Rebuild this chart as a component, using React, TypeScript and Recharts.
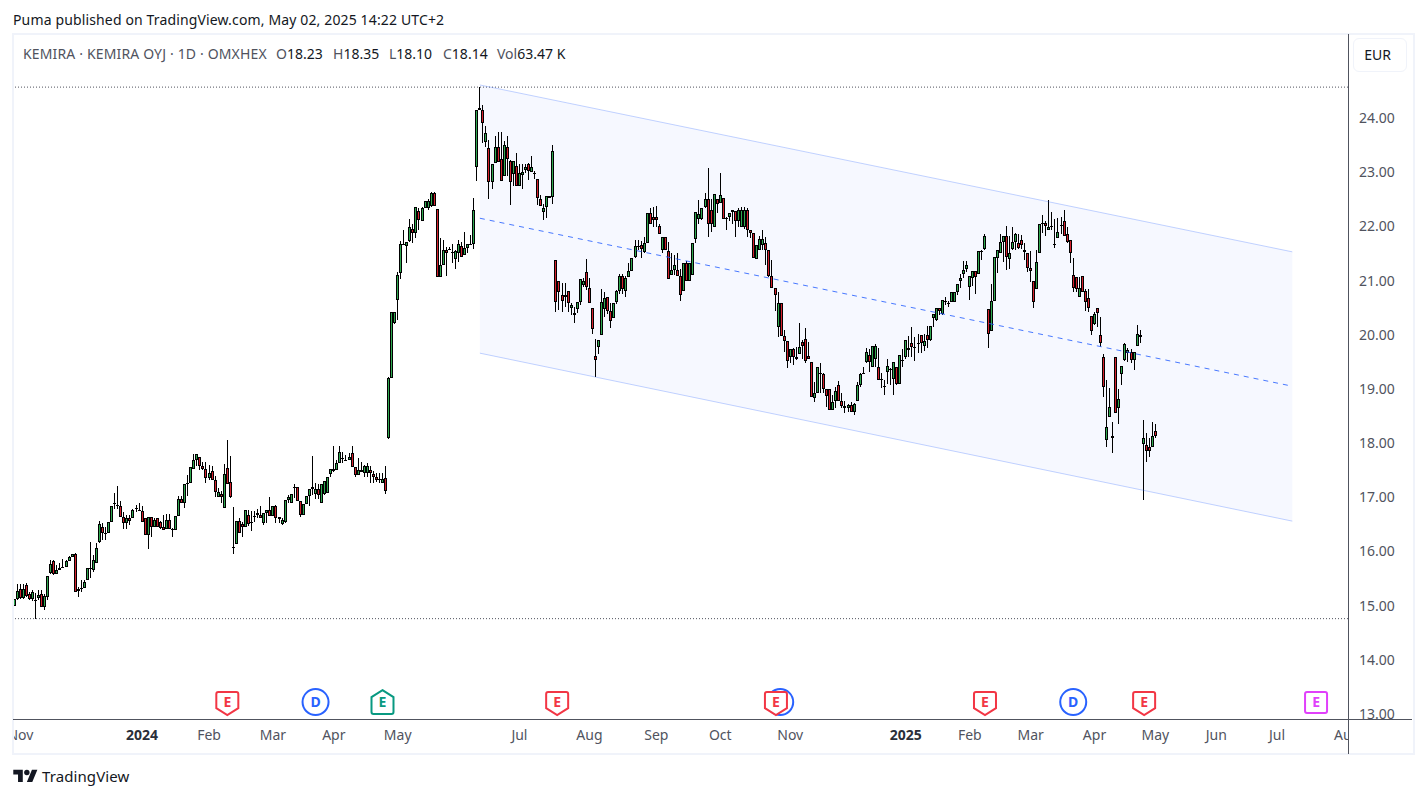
import React from "react";
import {
  Area,
  Bar,
  ComposedChart,
  Line,
  ReferenceDot,
  ReferenceLine,
  XAxis,
  YAxis,
} from "recharts";

// each candle is [open, high, low, close]
const candlesLate2023 = [
  [14.99,15.13,14.99,15.13],[15.13,15.40,15.11,15.27],[15.30,15.40,15.13,15.15],[15.15,15.40,15.13,15.30],
  [15.39,15.41,15.16,15.18],[15.21,15.26,15.10,15.13],[15.13,15.28,15.09,15.25],[15.10,15.24,14.76,15.09],
  [15.14,15.29,15.10,15.19],[15.21,15.29,14.97,14.97],[14.98,15.21,14.92,15.18],[15.16,15.54,15.10,15.54],
  [15.61,15.85,15.58,15.77],[15.82,15.84,15.57,15.59],[15.59,15.75,15.59,15.65],[15.65,15.78,15.65,15.70],
  [15.71,15.87,15.71,15.71],[15.72,15.85,15.72,15.83],[15.83,15.91,15.83,15.89],[15.89,15.96,15.89,15.96],
  [15.95,15.97,15.26,15.26],[15.30,15.34,15.16,15.27],[15.31,15.48,15.25,15.33],[15.33,15.48,15.33,15.43],
  [15.48,15.69,15.47,15.69],[15.70,16.17,15.51,15.68],[15.65,15.93,15.62,15.84],[15.79,16.16,15.79,16.07],
  [16.18,16.56,16.16,16.50],[16.46,16.52,16.21,16.35],[16.35,16.46,16.21,16.35],[16.35,16.54,16.35,16.54],
  [16.54,16.83,16.54,16.83],[16.87,17.07,16.78,16.90],[16.85,17.21,16.79,16.84],[16.83,16.93,16.64,16.64],
  [16.64,16.72,16.41,16.52],[16.52,16.67,16.41,16.61],[16.61,16.68,16.49,16.57],[16.61,16.79,16.61,16.76],
  [16.79,16.85,16.73,16.80],[16.77,16.90,16.74,16.76],[16.74,16.84,16.55,16.55],[16.61,16.61,16.31,16.31],
  [16.31,16.64,16.05,16.64],[16.64,16.64,16.26,16.46],[16.46,16.62,16.46,16.59],[16.61,16.61,16.46,16.46],
  [16.54,16.57,16.42,16.44],[16.46,16.67,16.39,16.39],[16.42,16.70,16.42,16.59],[16.59,16.70,16.42,16.42],
  [16.42,16.44,16.27,16.42],[16.39,16.66,16.39,16.66],[16.66,17.02,16.66,16.96],[16.96,17.02,16.89,16.90],
  [16.89,17.24,16.81,17.24],[17.25,17.41,17.03,17.26],[17.26,17.55,17.26,17.55],[17.53,17.80,17.53,17.68],
  [17.68,17.79,17.58,17.79],
];

const candlesSpring2024 = [
  [17.74,17.74,17.51,17.57],[17.57,17.66,17.51,17.52],[17.52,17.66,17.26,17.35],[17.35,17.59,17.32,17.44],
  [17.48,17.57,17.32,17.32],[17.32,17.40,17.01,17.09],[17.00,17.17,17.00,17.09],[17.06,17.11,16.89,17.00],
  [16.80,17.61,16.80,17.43],[17.54,18.06,17.24,17.24],[17.28,17.77,16.98,17.00],[16.09,16.82,15.96,16.09],
  [16.13,16.56,16.13,16.56],[16.56,16.61,16.35,16.35],[16.50,16.55,16.26,16.46],[16.45,16.76,16.45,16.76],
  [16.67,16.77,16.47,16.50],[16.55,16.74,16.37,16.55],[16.66,16.75,16.55,16.66],[16.71,16.78,16.61,16.67],
  [16.67,16.84,16.61,16.61],[16.53,16.71,16.48,16.71],[16.71,16.76,16.53,16.76],[16.76,17.00,16.65,16.65],
  [16.65,16.83,16.65,16.83],[16.83,16.86,16.52,16.61],[16.63,16.63,16.52,16.60],[16.50,16.61,16.48,16.58],
  [16.54,16.95,16.52,16.95],[16.95,17.04,16.89,17.00],[16.89,17.06,16.89,17.06],[17.19,17.24,16.98,17.19],
  [17.19,17.19,16.93,16.93],[16.93,16.93,16.63,16.67],[16.67,16.87,16.67,16.87],[16.87,17.02,16.87,17.02],
  [17.02,17.15,16.83,17.15],[17.15,17.77,17.04,17.19],[17.06,17.26,16.96,17.15],[17.15,17.24,16.96,17.04],
  [16.89,17.24,16.89,17.24],[17.06,17.30,17.04,17.30],[17.08,17.37,17.08,17.37],[17.43,17.52,17.37,17.52],
  [17.52,17.95,17.47,17.48],[17.50,17.68,17.50,17.63],[17.63,17.95,17.63,17.83],[17.72,17.83,17.63,17.72],
  [17.69,17.78,17.68,17.69],[17.69,17.81,17.69,17.74],[17.82,17.95,17.56,17.56],[17.56,17.56,17.38,17.41],
  [17.41,17.72,17.41,17.50],[17.46,17.66,17.46,17.50],[17.44,17.60,17.38,17.57],[17.44,17.64,17.38,17.57],
  [17.50,17.57,17.26,17.44],[17.43,17.48,17.26,17.37],[17.37,17.44,17.29,17.32],[17.33,17.44,17.26,17.33],
  [17.26,17.44,17.26,17.33],[17.35,17.58,17.06,17.11],
];

const candlesSummer2024 = [
  [18.09,19.22,18.07,19.20],[19.20,20.42,19.20,20.42],[20.22,20.42,20.20,20.42],[20.65,21.16,20.27,21.11],
  [21.14,21.73,21.03,21.68],[21.67,21.93,21.65,21.67],[21.64,21.72,21.33,21.72],[21.73,22.13,21.71,21.99],
  [21.96,22.05,21.70,21.88],[21.88,22.36,21.78,22.36],[22.29,22.33,21.93,22.12],[22.10,22.36,22.10,22.33],
  [22.33,22.47,22.33,22.47],[22.33,22.50,22.31,22.47],[22.37,22.64,22.36,22.61],[22.61,22.64,22.37,22.37],
  [22.32,22.32,21.07,21.07],[21.07,21.78,21.07,21.28],[21.28,21.75,21.28,21.57],[21.57,21.62,21.09,21.50],
  [21.59,21.62,21.56,21.59],[21.52,21.68,21.33,21.52],[21.39,21.56,21.22,21.54],[21.51,21.75,21.35,21.67],
  [21.64,21.72,21.43,21.44],[21.47,21.89,21.47,21.61],[21.61,21.68,21.50,21.68],[21.68,21.84,21.65,21.68],
  [21.67,22.52,21.59,22.31],[23.10,24.14,22.84,24.14],[24.19,24.57,24.14,24.14],[24.14,24.24,23.54,23.91],
  [23.56,23.85,23.47,23.73],[23.44,23.59,22.50,22.82],[22.81,23.16,22.69,23.16],[23.17,23.67,23.17,23.47],
  [23.47,23.75,23.19,23.19],[23.24,23.75,22.84,22.84],[22.93,23.57,22.93,23.51],[23.47,23.67,22.93,23.25],
  [23.20,23.22,22.39,22.82],[22.96,23.20,22.74,23.20],[23.12,23.36,22.75,22.75],[22.75,23.16,22.75,22.98],
  [22.95,23.16,22.69,23.01],[23.04,23.16,22.98,23.10],[23.15,23.17,22.85,23.03],[23.01,23.30,23.01,23.10],
  [22.98,23.02,22.87,22.98],[22.87,22.88,22.39,22.53],[22.50,22.58,22.38,22.38],[22.27,22.42,22.12,22.33],
  [22.35,22.56,22.16,22.56],[22.53,22.56,22.53,22.56],[22.55,23.50,22.41,23.40],
];

const candlesAutumn2024 = [
  [21.38,21.38,20.42,20.61],[21.00,21.00,20.45,20.78],[20.74,20.95,20.42,20.63],[20.69,20.95,20.52,20.74],
  [20.80,20.80,20.42,20.59],[20.50,20.58,20.36,20.55],[20.37,20.52,20.22,20.41],[20.47,20.61,20.40,20.60],
  [20.60,21.02,20.55,21.02],[20.91,21.04,20.89,21.00],[21.15,21.39,20.82,20.89],[20.87,21.04,20.58,20.58],
  [20.49,20.49,20.02,20.11],[19.60,19.93,19.22,19.54],[19.77,19.91,19.65,19.91],[19.99,20.84,19.99,20.60],
  [20.47,20.79,20.33,20.67],[20.69,20.69,20.38,20.43],[20.43,20.58,20.13,20.26],[20.30,20.58,20.30,20.58],
  [20.60,20.82,20.56,20.80],[20.80,21.13,20.76,21.08],[21.09,21.13,20.76,20.84],[20.81,21.08,20.70,21.04],
  [21.06,21.32,21.06,21.17],[21.17,21.41,21.17,21.41],[21.43,21.75,21.41,21.63],[21.64,21.75,21.56,21.64],
  [21.65,21.73,21.41,21.59],[21.52,21.81,21.50,21.69],[21.69,22.24,21.69,22.24],[22.24,22.33,22.04,22.04],
  [22.17,22.35,21.98,22.11],[22.17,22.38,21.98,22.11],[22.00,22.05,21.85,21.85],[21.57,21.81,21.50,21.81],
  [21.80,21.80,21.57,21.57],[21.54,21.72,21.02,21.02],[21.11,21.50,21.11,21.20],[21.20,21.47,21.11,21.28],
  [21.19,21.50,21.09,21.09],[21.09,21.22,20.63,20.73],[20.80,21.33,20.80,21.33],[21.33,21.37,21.00,21.00],
  [21.00,21.32,21.00,21.32],[21.11,21.69,21.11,21.69],[21.76,22.26,21.70,22.26],[22.13,22.49,22.05,22.23],
  [22.13,22.33,22.11,22.33],[22.36,22.61,22.33,22.50],[22.50,23.07,21.81,22.05],[22.31,22.50,21.90,22.05],
  [21.99,22.59,21.99,22.59],[22.50,22.50,22.24,22.41],[22.44,22.98,22.44,22.57],[22.53,22.53,22.13,22.13],
  [22.15,22.18,21.94,22.15],[22.17,22.24,22.09,22.24],[22.26,22.30,22.05,22.30],[22.28,22.28,21.81,22.09],
  [22.09,22.33,21.99,22.30],[21.99,22.35,21.98,22.30],[21.99,22.35,21.96,22.30],[22.31,22.33,21.81,21.93],
  [21.93,21.93,21.78,21.88],[21.87,21.87,21.41,21.41],[21.39,21.65,21.39,21.65],[21.56,21.82,21.56,21.76],
  [21.65,21.93,21.56,21.76],[21.69,21.81,21.29,21.56],[21.56,21.56,21.06,21.08],[21.08,21.38,20.86,20.86],
  [20.87,20.87,20.44,20.74],[20.15,20.79,19.96,20.58],[20.58,20.58,19.97,19.97],[19.97,20.09,19.69,19.88],
  [19.88,19.88,19.38,19.51],[19.58,19.73,19.47,19.73],[19.73,19.75,19.44,19.58],[19.58,19.78,19.53,19.56],
  [19.64,20.21,19.64,19.77],[19.86,19.90,19.56,19.80],[19.93,20.12,19.47,19.51],[19.60,19.86,19.55,19.55],
];

const candlesWinter2025 = [
  [19.49,19.49,18.86,18.86],[18.84,19.13,18.76,18.92],[18.92,19.40,18.92,19.40],[19.30,19.47,18.92,19.27],
  [19.27,19.29,18.92,18.99],[18.99,18.99,18.67,18.87],[18.99,18.99,18.62,18.62],[18.62,18.88,18.62,18.75],
  [18.77,19.04,18.64,18.97],[19.08,19.14,18.77,18.77],[18.77,18.92,18.64,18.68],[18.68,18.77,18.55,18.64],
  [18.64,18.73,18.58,18.70],[18.71,18.76,18.58,18.58],[18.58,18.74,18.52,18.73],[18.77,19.13,18.77,19.08],
  [19.08,19.29,19.04,19.27],[19.27,19.41,19.27,19.30],[19.49,19.75,19.47,19.69],[19.62,19.73,19.32,19.49],
  [19.40,19.80,19.40,19.80],[19.56,19.82,19.40,19.79],[19.41,19.75,19.16,19.16],[19.16,19.29,19.01,19.19],
  [19.05,19.16,18.89,19.05],[19.32,19.55,19.10,19.42],[19.37,19.38,19.07,19.37],[19.18,19.49,18.89,19.49],
  [19.40,19.40,19.07,19.10],[19.10,19.62,19.10,19.62],[19.54,19.73,19.41,19.51],[19.58,19.90,19.56,19.90],
  [19.71,19.97,19.59,19.75],[19.84,20.14,19.58,19.77],[19.77,19.96,19.52,19.77],[19.85,20.02,19.66,19.85],
  [19.99,20.00,19.66,19.84],[19.80,20.02,19.70,19.88],[19.99,20.16,19.75,19.90],[19.90,20.17,19.88,20.17],
  [20.30,20.38,20.15,20.38],[20.27,20.49,20.26,20.49],[20.50,20.50,20.36,20.43],[20.39,20.65,20.36,20.65],
  [20.62,20.69,20.55,20.62],[20.59,20.62,20.52,20.59],[20.60,20.78,20.60,20.78],[20.60,20.78,20.60,20.78],
  [20.78,20.93,20.73,20.93],[21.00,21.13,20.86,21.04],[21.13,21.37,21.04,21.19],[21.21,21.37,21.16,21.28],
  [20.89,21.08,20.65,21.08],[21.04,21.17,20.90,21.17],[21.17,21.17,20.76,21.06],[21.13,21.54,21.13,21.54],
  [21.52,21.57,21.38,21.54],[21.59,21.85,21.56,21.82],
];

const candlesSpring2025 = [
  [20.47,20.47,19.75,20.02],[20.06,20.93,20.06,20.62],[20.62,21.43,20.62,21.43],[21.41,21.56,21.14,21.56],
  [21.50,21.85,21.50,21.72],[21.72,21.82,21.35,21.82],[21.82,22.01,21.19,21.43],[21.39,21.82,21.22,21.50],
  [21.58,21.98,21.56,21.72],[21.72,21.87,21.56,21.85],[21.69,21.85,21.59,21.61],[21.74,21.84,21.59,21.65],
  [21.56,21.69,21.38,21.52],[21.50,21.50,21.16,21.24],[21.24,21.54,20.98,21.17],[21.00,21.00,20.49,20.60],
  [20.84,21.56,20.84,21.35],[21.50,22.04,21.50,22.04],[22.04,22.21,21.87,22.07],[22.07,22.09,21.83,22.00],
  [21.93,22.49,21.93,21.98],[22.00,22.26,21.94,22.00],[21.68,22.13,21.61,21.68],[21.78,22.15,21.78,21.89],
  [22.02,22.18,21.85,22.02],[22.09,22.31,21.83,21.83],[21.85,21.98,21.70,21.72],[21.74,21.74,21.32,21.50],
  [21.11,21.41,20.79,20.87],[21.06,21.06,20.79,20.84],[20.69,21.07,20.69,20.87],[21.08,21.08,20.78,20.78],
  [20.80,20.85,20.44,20.61],[20.67,20.85,20.42,20.49],[20.34,20.34,20.00,20.06],[20.19,20.42,20.18,20.39],
  [20.49,20.50,20.15,20.41],[19.99,20.33,19.77,19.84],[19.58,19.65,18.85,19.03],[18.05,19.17,17.93,18.29],
  [18.49,19.01,18.49,18.66],[18.14,18.39,17.82,18.10],[19.58,19.58,18.55,18.55],[18.64,18.99,18.36,18.82],
  [19.27,19.43,19.07,19.43],[19.54,19.84,19.52,19.82],[19.67,19.76,19.50,19.71],[19.69,19.73,19.48,19.54],
  [19.54,19.69,19.35,19.69],[19.80,20.18,19.80,20.02],[20.00,20.09,19.85,19.95],[17.99,18.42,16.95,18.10],
  [17.97,18.18,17.65,17.86],[17.92,18.10,17.75,17.86],[17.92,18.39,17.92,18.14],[18.23,18.35,18.10,18.14],
];

const candles = [
  ...candlesLate2023,
  ...candlesSpring2024,
  ...candlesSummer2024,
  ...candlesAutumn2024,
  ...candlesWinter2025,
  ...candlesSpring2025,
];

// parallel channel, anchored on two bars
const channelBars = [153, 420];
const channelUpper = [24.61, 21.53];
const channelMid = [22.15, 19.05];
const channelLower = [19.66, 16.56];

const priceTicks = [13, 14, 15, 16, 17, 18, 19, 20, 21, 22, 23, 24];
const timeTickBars = [2, 42, 64, 85, 105, 126, 166, 189, 211, 232, 255, 293, 314, 334, 355, 375, 395, 415, 438];
const timeTickLabels = ["Nov", "2024", "Feb", "Mar", "Apr", "May", "Jul", "Aug", "Sep", "Oct", "Nov", "2025", "Feb", "Mar", "Apr", "May", "Jun", "Jul", "Aug"];

const highLine = 24.57;
const lowLine = 14.76;

// "C" is the dividend circle that sits behind an earnings badge, its letter covered
const eventBars = [251.7, 99, 348, 70, 121, 178.4, 250.3, 319, 371.3, 427.8];
const eventKinds = ["C", "D", "D", "E", "G", "E", "E", "E", "E", "M"];
const eventPrice = 13.22;

const legendParts = [
  { label: "O", value: "18.23", left: 276 },
  { label: "H", value: "18.35", left: 333 },
  { label: "L", value: "18.10", left: 389 },
  { label: "C", value: "18.14", left: 443 },
  { label: "Vol", value: "63.47 K", left: 497 },
];

const rows: any[] = candles.map(([o, h, l, c], i) => ({ i, o, h, l, c, range: [l, h] }));
rows.push({ i: channelBars[1] });
channelBars.forEach((bar, k) => {
  const row = rows.find((r) => r.i === bar);
  row.upper = channelUpper[k];
  row.mid = channelMid[k];
  row.lower = channelLower[k];
  row.band = [channelLower[k], channelUpper[k]];
});

const FONT = '"Noto Sans", sans-serif';
const TEXT = "#50535e";
const INK = "#000000";

function Candle(props: any) {
  const { x, y, width, height, payload } = props;
  if (payload.o == null) return null;
  const unit = height / (payload.h - payload.l);
  const cx = Math.floor(x + width / 2);
  const yOpen = y + (payload.h - payload.o) * unit;
  const yClose = y + (payload.h - payload.c) * unit;
  const top = Math.round(Math.min(yOpen, yClose));
  const bodyH = Math.max(1, Math.round(Math.max(yOpen, yClose)) - top);
  const wickTop = Math.round(y);
  const color = payload.c >= payload.o ? "#2fa84f" : "#d4202c";
  return (
    <g>
      <rect x={cx} y={wickTop} width={1} height={Math.max(1, Math.round(y + height) - wickTop)} fill={INK} />
      <rect x={cx - 1} y={top} width={3} height={bodyH} fill={INK} />
      {bodyH > 2 && <rect x={cx} y={top + 1} width={1} height={bodyH - 2} fill={color} />}
    </g>
  );
}

function TimeTick(props: any) {
  const { x, y, payload } = props;
  const label = timeTickLabels[timeTickBars.indexOf(payload.value)];
  const isYear = /^\d{4}$/.test(label);
  return (
    <text
      x={x}
      y={y}
      dy="0.35em"
      textAnchor="middle"
      clipPath="url(#timeScaleClip)"
      fontFamily={FONT}
      fontSize={14}
      fontWeight={isYear ? 700 : 400}
      fill={isYear ? "#2a2e39" : TEXT}
    >
      {label}
    </text>
  );
}

function EventMark(kind: string) {
  return (props: any) => {
    const { cx, cy } = props;
    if (kind === "D" || kind === "C") {
      return (
        <g>
          <circle cx={cx} cy={cy} r={13} fill="#fff" stroke="#2962ff" strokeWidth={2} />
          {kind === "D" && (
            <text x={cx} y={cy + 5} textAnchor="middle" fontFamily={FONT} fontSize={14} fontWeight={700} fill="#2962ff">D</text>
          )}
        </g>
      );
    }
    const color = kind === "G" ? "#089981" : kind === "M" ? "#e040fb" : "#f23645";
    const path =
      kind === "G"
        ? `M${cx} ${cy - 12} L${cx + 11} ${cy - 5} V${cy + 10} Q${cx + 11} ${cy + 12} ${cx + 9} ${cy + 12} H${cx - 9} Q${cx - 11} ${cy + 12} ${cx - 11} ${cy + 10} V${cy - 5} Z`
        : kind === "M"
        ? `M${cx - 9} ${cy - 10} H${cx + 9} Q${cx + 11} ${cy - 10} ${cx + 11} ${cy - 8} V${cy + 9} Q${cx + 11} ${cy + 11} ${cx + 9} ${cy + 11} H${cx - 9} Q${cx - 11} ${cy + 11} ${cx - 11} ${cy + 9} V${cy - 8} Q${cx - 11} ${cy - 10} ${cx - 9} ${cy - 10} Z`
        : `M${cx - 9} ${cy - 10} H${cx + 9} Q${cx + 11} ${cy - 10} ${cx + 11} ${cy - 8} V${cy + 6} L${cx} ${cy + 13} L${cx - 11} ${cy + 6} V${cy - 8} Q${cx - 11} ${cy - 10} ${cx - 9} ${cy - 10} Z`;
    return (
      <g>
        <path d={path} fill="#fff" stroke={color} strokeWidth={2} />
        <text x={cx} y={cy + 5} textAnchor="middle" fontFamily={FONT} fontSize={14} fontWeight={700} fill={color}>E</text>
      </g>
    );
  };
}

const abs = (left: number, top: number, extra: React.CSSProperties = {}): React.CSSProperties => ({
  position: "absolute",
  left,
  top,
  fontFamily: FONT,
  whiteSpace: "nowrap",
  ...extra,
});

export default function App() {
  return (
    <div style={{ position: "relative", width: 1426, height: 798, margin: -8, background: "#fff", overflow: "hidden" }}>
      <ComposedChart
        width={1426}
        height={798}
        data={rows}
        margin={{ top: 35, right: 0, bottom: 44, left: 13 }}
        style={{ position: "absolute", left: 0, top: 0 }}
      >
        <defs>
          <clipPath id="timeScaleClip">
            <rect x={13} y={720} width={1335} height={34} />
          </clipPath>
        </defs>
        <XAxis
          dataKey="i"
          type="number"
          domain={[-0.43, 438.3]}
          allowDataOverflow
          ticks={timeTickBars}
          interval={0}
          height={35}
          axisLine={false}
          tickLine={false}
          tickSize={0}
          tickMargin={16}
          tick={TimeTick}
        />
        <YAxis
          orientation="right"
          type="number"
          domain={[12.908, 25.532]}
          allowDataOverflow
          ticks={priceTicks}
          interval={0}
          width={78}
          axisLine={false}
          tickLine={false}
          tickSize={0}
          tickMargin={11}
          tickFormatter={(v: number) => v.toFixed(2)}
          tick={{ fill: TEXT, fontSize: 14, fontFamily: FONT, textAnchor: "start" }}
        />
        <Area dataKey="band" type="linear" connectNulls stroke="none" fill="#2962ff" fillOpacity={0.045} dot={false} activeDot={false} isAnimationActive={false} />
        <ReferenceLine y={highLine} stroke="#50535e" strokeDasharray="1 2" />
        <ReferenceLine y={lowLine} stroke="#50535e" strokeDasharray="1 2" />
        <Bar dataKey="range" barSize={3} shape={Candle} isAnimationActive={false} />
        <Line dataKey="upper" type="linear" connectNulls stroke="#2962ff" strokeOpacity={0.28} strokeWidth={1} dot={false} activeDot={false} isAnimationActive={false} />
        <Line dataKey="lower" type="linear" connectNulls stroke="#2962ff" strokeOpacity={0.28} strokeWidth={1} dot={false} activeDot={false} isAnimationActive={false} />
        <Line dataKey="mid" type="linear" connectNulls stroke="#2962ff" strokeOpacity={0.85} strokeWidth={1} strokeDasharray="5 5" dot={false} activeDot={false} isAnimationActive={false} />
        {eventBars.map((bar, k) => (
          <ReferenceDot key={k} x={bar} y={eventPrice} r={1} shape={EventMark(eventKinds[k])} />
        ))}
      </ComposedChart>

      {/* pane frame and scale lines */}
      <div style={{ position: "absolute", left: 12, top: 33, width: 1399, height: 718, border: "2px solid #f0f3fa", boxSizing: "content-box" }} />
      <div style={{ position: "absolute", left: 1348, top: 34, width: 1, height: 720, background: TEXT }} />
      <div style={{ position: "absolute", left: 13, top: 719, width: 1399, height: 1, background: TEXT }} />

      <div style={abs(13, 10, { fontSize: 14, letterSpacing: 0.14, color: "#131722" })}>Puma published on TradingView.com, May 02, 2025 14:22 UTC+2</div>
      <div style={abs(23, 44, { fontSize: 14, letterSpacing: 0.15, color: TEXT })}>KEMIRA · KEMIRA OYJ · 1D · OMXHEX</div>
      {legendParts.map((p) => (
        <div key={p.label} style={abs(p.left, 44, { fontSize: 14, color: TEXT })}>
          {p.label}
          <span style={{ color: "#131722" }}>{p.value}</span>
        </div>
      ))}

      <div
        style={abs(1353, 38, {
          width: 54,
          height: 34,
          border: "1px solid #f0f3fa",
          borderRadius: 6,
          boxSizing: "border-box",
          textAlign: "center",
          lineHeight: "32px",
          paddingRight: 5,
          fontSize: 14,
          color: "#131722",
        })}
      >
        EUR
      </div>

      <svg style={{ position: "absolute", left: 13, top: 767 }} width={25} height={19} viewBox="0 0 36 28">
        <path d="M14 22H7V11H0V4h14v18zM28 22h-8l7.5-18h8L28 22z" fill="#131722" />
        <circle cx={20} cy={8} r={4} fill="#131722" />
      </svg>
      <div style={abs(42, 766, { fontSize: 15, letterSpacing: 0.1, color: "#131722" })}>TradingView</div>
    </div>
  );
}
